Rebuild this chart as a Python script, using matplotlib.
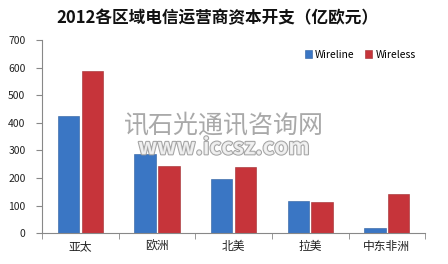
import matplotlib
matplotlib.use("Agg")
import matplotlib.pyplot as plt
import matplotlib.patheffects as pe
import numpy as np

plt.rcParams['font.family'] = ['Noto Sans CJK SC', 'DejaVu Sans']

categories = ["亚太", "欧洲", "北美", "拉美", "中东非洲"]
wireline = [424, 287, 195, 118, 18]
wireless = [588, 243, 240, 113, 142]
series_names = ["Wireline", "Wireless"]
yticks = [0, 100, 200, 300, 400, 500, 600, 700]
title = "2012各区域电信运营商资本开支（亿欧元）"

fig = plt.figure(figsize=(4.48, 2.64), dpi=100)
ax = fig.add_axes([0.094, 0.117, 0.855, 0.731])

x = np.arange(len(categories))
w = 0.28
c_blue = "#3a76c4"
c_red = "#c6343a"
ax.bar(x - 0.155, wireline, w, color=c_blue, label=series_names[0], edgecolor="#2c5e9e", linewidth=0.4)
ax.bar(x + 0.155, wireless, w, color=c_red, label=series_names[1], edgecolor="#9e2a2e", linewidth=0.4)

ax.set_xlim(-0.5, len(categories) - 0.5)
ax.set_ylim(0, 700)
ax.set_yticks(yticks)
ax.set_yticklabels([str(v) for v in yticks], fontsize=7.5, color="#222222")
ax.set_xticks(x)
ax.set_xticklabels(categories, fontsize=8.5, color="#222222")
ax.tick_params(axis='x', length=0, pad=5)
ax.set_xticks(np.arange(-0.5, len(categories)), minor=True)
ax.tick_params(axis='x', which='minor', length=4, color="#888888", direction='out')
ax.tick_params(axis='y', length=4, color="#888888", direction='out', pad=8)

for s in ['top', 'right']:
    ax.spines[s].set_visible(False)
for s in ['left', 'bottom']:
    ax.spines[s].set_color("#888888")
    ax.spines[s].set_linewidth(0.8)

leg = ax.legend(loc='upper right', bbox_to_anchor=(1.0, 1.0), ncol=2, frameon=False,
                fontsize=7.5, handlelength=0.7, handleheight=0.7, handletextpad=0.3,
                columnspacing=1.0)

fig.text(0.485, 0.932, title, ha='center', va='center', fontsize=12, fontweight='bold', color="#111111")

# watermark
fig.text(0.50, 0.525, "讯石光通讯咨询网", ha='center', va='center', fontsize=18,
         color="#9a9a9a", alpha=0.85)
fig.text(0.50, 0.44, "www.iccsz.com", ha='center', va='center', fontsize=16,
         fontweight='bold', color="#f4f4f4", alpha=0.9,
         path_effects=[pe.withStroke(linewidth=1.5, foreground="#9a9a9a")])

fig.savefig("out.png", dpi=100)
